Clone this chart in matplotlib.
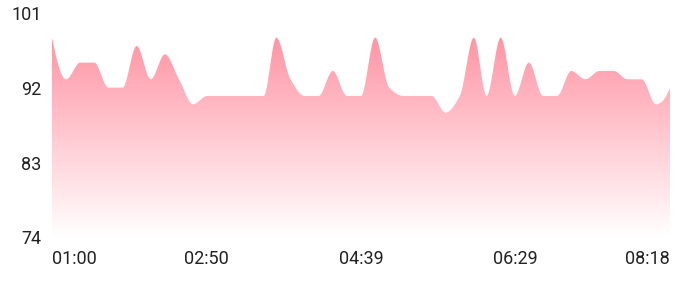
import numpy as np
import matplotlib
matplotlib.use('Agg')
import matplotlib.pyplot as plt
from matplotlib.colors import to_rgb

# Data
times = ['01:00', '01:10', '01:20', '01:30', '01:40', '01:50', '02:00', '02:10', '02:20',
         '02:30', '02:40', '02:50', '03:00', '03:10', '03:20', '03:30', '03:39', '03:49',
         '03:59', '04:09', '04:19', '04:29', '04:39', '04:49', '04:59', '05:09', '05:19',
         '05:29', '05:39', '05:49', '05:59', '06:08', '06:18', '06:28', '06:38', '06:48',
         '06:58', '07:08', '07:18', '07:28', '07:38', '07:48', '07:58', '08:08', '08:18']
values = [98, 93, 95, 95, 92, 92, 97, 93, 96, 93, 90, 91, 91, 91, 91, 91, 98, 93, 91, 91,
          94, 91, 91, 98, 92, 91, 91, 91, 89, 91, 98, 91, 98, 91, 95, 91, 91, 94, 93, 94,
          94, 93, 93, 90, 92]
y_ticks = [74, 83, 92, 101]

TOP_COLOR = '#FF8799'
TEXT_COLOR = '#222222'
FONT = 'Roboto'
FONTSIZE = 13


def to_minutes(t):
    h, m = t.split(':')
    return int(h) * 60 + int(m)


def pchip(x, y, xs):
    """Monotone cubic (Fritsch-Carlson) interpolation."""
    x = np.asarray(x, float)
    y = np.asarray(y, float)
    h = np.diff(x)
    delta = np.diff(y) / h
    n = len(x)
    d = np.zeros(n)
    for k in range(1, n - 1):
        if delta[k - 1] * delta[k] > 0:
            w1 = 2 * h[k] + h[k - 1]
            w2 = h[k] + 2 * h[k - 1]
            d[k] = (w1 + w2) / (w1 / delta[k - 1] + w2 / delta[k])

    def end_slope(h0, h1, d0, d1):
        s = ((2 * h0 + h1) * d0 - h0 * d1) / (h0 + h1)
        if np.sign(s) != np.sign(d0):
            return 0.0
        if np.sign(d0) != np.sign(d1) and abs(s) > abs(3 * d0):
            return 3 * d0
        return s

    d[0] = end_slope(h[0], h[1], delta[0], delta[1])
    d[-1] = end_slope(h[-1], h[-2], delta[-1], delta[-2])

    idx = np.clip(np.searchsorted(x, xs) - 1, 0, n - 2)
    t = (xs - x[idx]) / h[idx]
    h00 = 2 * t**3 - 3 * t**2 + 1
    h10 = t**3 - 2 * t**2 + t
    h01 = -2 * t**3 + 3 * t**2
    h11 = t**3 - t**2
    return h00 * y[idx] + h10 * h[idx] * d[idx] + h01 * y[idx + 1] + h11 * h[idx] * d[idx + 1]


x = np.array([to_minutes(t) for t in times]) - to_minutes(times[0])
xs = np.linspace(x[0], x[-1], 2000)
ys = pchip(x, values, xs)

fig = plt.figure(figsize=(7.0, 2.88), dpi=100)
ax = fig.add_axes([52 / 700, 50.5 / 288, 618 / 700, 224.8 / 288])
ax.set_xlim(x[0], x[-1])
ax.set_ylim(y_ticks[0], y_ticks[-1])

# area with vertical gradient: pink at the top fading to white at the bottom
poly = ax.fill_between(xs, ys, y_ticks[0], facecolor='none', edgecolor='none')
top = np.array(to_rgb(TOP_COLOR))
frac = np.linspace(1, 0, 256)[:, None]
grad = (1 - frac) * np.ones(3) + frac * top
img = ax.imshow(grad[:, None, :], extent=[x[0], x[-1], y_ticks[0], y_ticks[-1]],
                aspect='auto', origin='upper', zorder=1)
img.set_clip_path(poly.get_paths()[0], transform=ax.transData)

for s in ax.spines.values():
    s.set_visible(False)
ax.tick_params(length=0)

ax.set_yticks(y_ticks)
ax.set_yticklabels([str(v) for v in y_ticks], fontsize=FONTSIZE, color=TEXT_COLOR, family=FONT)
ax.tick_params(axis='y', pad=7.5)

# five evenly spaced time labels between first and last sample
xt = np.linspace(x[0], x[-1], 5)
start = to_minutes(times[0])
xl = []
for v in xt:
    m = int(np.floor(start + v + 0.5))
    xl.append('%02d:%02d' % (m // 60, m % 60))
ax.set_xticks(xt)
ax.set_xticklabels(xl, fontsize=FONTSIZE, color=TEXT_COLOR, family=FONT)
ax.tick_params(axis='x', pad=9)
labels = ax.get_xticklabels()
labels[0].set_ha('left')
labels[-1].set_ha('right')

fig.savefig('out.png', dpi=100, facecolor='white')
